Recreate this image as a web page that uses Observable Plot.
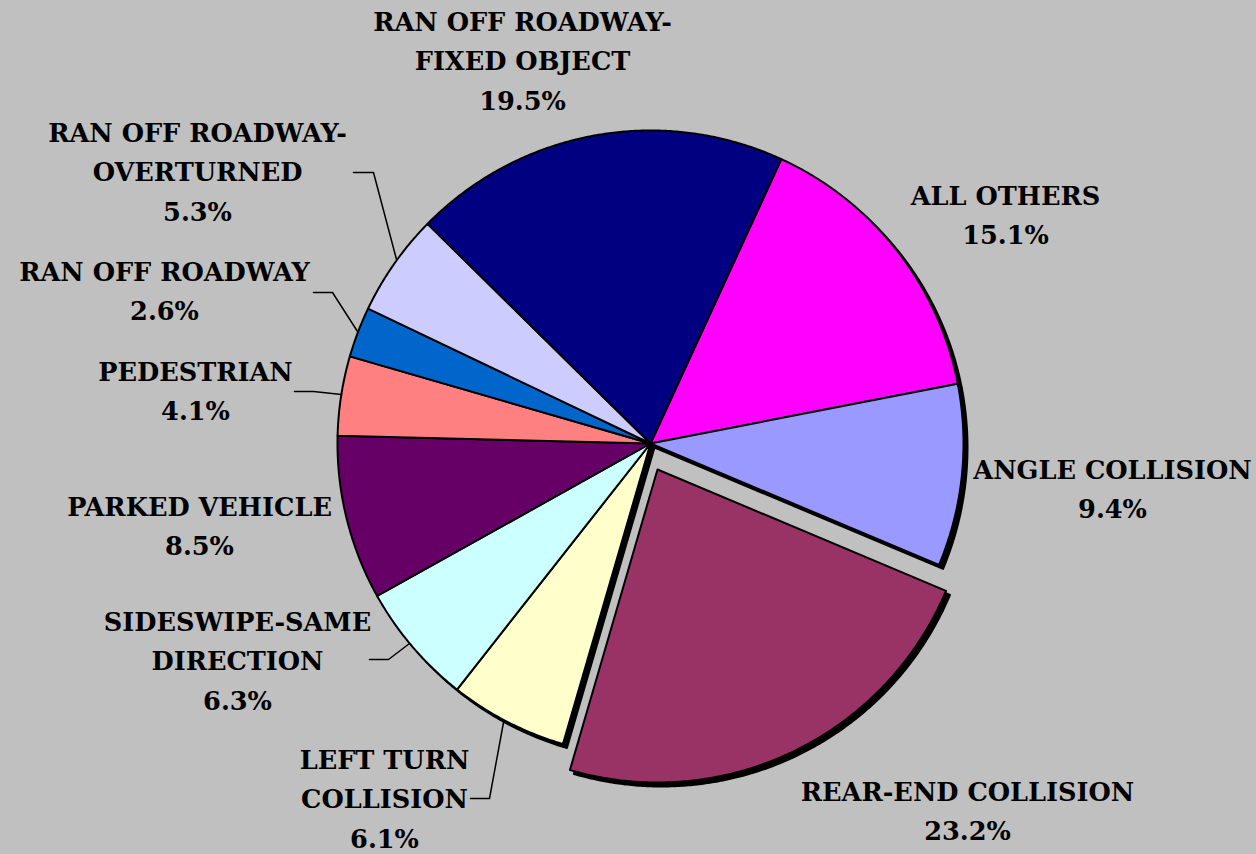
<!DOCTYPE html>
<html><head><meta charset="utf-8">
<script src="https://cdn.jsdelivr.net/npm/d3@7"></script>
<script src="https://cdn.jsdelivr.net/npm/@observablehq/plot@0.6"></script>
<style>
html,body{margin:0;padding:0;background:#C0C0C0;overflow:hidden}
#chart svg{display:block}
</style>
</head><body><div id="chart"></div>
<script>
// ---- data ----
const categories = ["ALL OTHERS","ANGLE COLLISION","REAR-END COLLISION","LEFT TURN COLLISION","SIDESWIPE-SAME DIRECTION","PARKED VEHICLE","PEDESTRIAN","RAN OFF ROADWAY","RAN OFF ROADWAY-OVERTURNED","RAN OFF ROADWAY-FIXED OBJECT"];
const values = [15.1, 9.4, 23.2, 6.1, 6.3, 8.5, 4.1, 2.6, 5.3, 19.5];
const labelLines = [["ALL OTHERS"],["ANGLE COLLISION"],["REAR-END COLLISION"],["LEFT TURN","COLLISION"],["SIDESWIPE-SAME","DIRECTION"],["PARKED VEHICLE"],["PEDESTRIAN"],["RAN OFF ROADWAY"],["RAN OFF ROADWAY-","OVERTURNED"],["RAN OFF ROADWAY-","FIXED OBJECT"]];
const colors = ["#FF00FF","#9999FF","#993366","#FFFFCC","#CCFFFF","#660066","#FF8080","#0066CC","#CCCCFF","#000080"];
const exploded = ["REAR-END COLLISION"];

// ---- layout ----
const W = 1256, H = 854;
const cx = 650, cy = 443, R = 313;
const startDeg = 24.7;
const explodeDx = 7, explodeDy = 26;
const shadowDx = 4, shadowDy = 4;
const fontSize = 25.6;
const fontFamily = "DejaVu Serif, Liberation Serif, serif";
const labelPos = [[1005,206],[1112,480],[967,802],[384,770],[237,632],[199,517],[195,382],[164,282],[197,143],[522,32]];
const leaders = [
  {cat:"RAN OFF ROADWAY-OVERTURNED", pts:[[353,172],[373,172],[396,259]]},
  {cat:"RAN OFF ROADWAY", pts:[[313,292],[332,292],[357,331]]},
  {cat:"PEDESTRIAN", pts:[[294,391],[313,391],[341,394]]},
  {cat:"SIDESWIPE-SAME DIRECTION", pts:[[369,659],[388,659],[409,643]]},
  {cat:"LEFT TURN COLLISION", pts:[[470,798],[489,798],[503,722]]}
];

// ---- geometry from data ----
const a0 = startDeg * Math.PI / 180;
const arcs = d3.pie().sort(null).value(d => d).startAngle(a0).endAngle(a0 + 2*Math.PI)(values);
const slices = arcs.map((a, i) => {
  const cat = categories[i];
  const ex = exploded.includes(cat);
  const ox = ex ? explodeDx : 0, oy = ex ? explodeDy : 0;
  const pts = [{x: cx + ox, y: cy + oy}];
  const n = Math.max(2, Math.ceil((a.endAngle - a.startAngle) / (0.4*Math.PI/180)));
  for (let k = 0; k <= n; k++) {
    const t = a.startAngle + (a.endAngle - a.startAngle) * k / n;
    pts.push({x: cx + ox + R*Math.sin(t), y: cy + oy - R*Math.cos(t)});
  }
  pts.push({x: cx + ox, y: cy + oy});
  return {cat, color: colors[i], pts};
});

const labelData = categories.map((c, i) => ({
  x: labelPos[i][0], y: labelPos[i][1],
  text: [...labelLines[i], values[i].toFixed(1) + "%"].join("\n")
}));

const marks = [];
for (const s of slices) marks.push(Plot.line(s.pts, {x: "x", y: "y", dx: shadowDx, dy: shadowDy, fill: "black", stroke: "black", strokeWidth: 2, curve: "linear-closed"}));
for (const s of slices) marks.push(Plot.line(s.pts, {x: "x", y: "y", fill: s.color, stroke: "black", strokeWidth: 2, strokeLinejoin: "round", curve: "linear-closed"}));
for (const l of leaders) marks.push(Plot.line(l.pts, {x: d => d[0], y: d => d[1], stroke: "black", strokeWidth: 1.5}));
marks.push(Plot.text(labelData, {x: "x", y: "y", text: "text", fontSize, fontWeight: "bold",
  fontFamily, fill: "black", textAnchor: "middle",
  lineAnchor: "top", dy: -fontSize - 4, lineHeight: 39.5/fontSize}));

const chart = Plot.plot({
  width: W, height: H, margin: 0,
  x: {domain: [0, W], range: [0, W], axis: null},
  y: {domain: [0, H], range: [0, H], axis: null},
  style: {background: "#C0C0C0", overflow: "visible", fontFamily},
  marks
});
document.getElementById("chart").appendChild(chart);
</script>
</body></html>
